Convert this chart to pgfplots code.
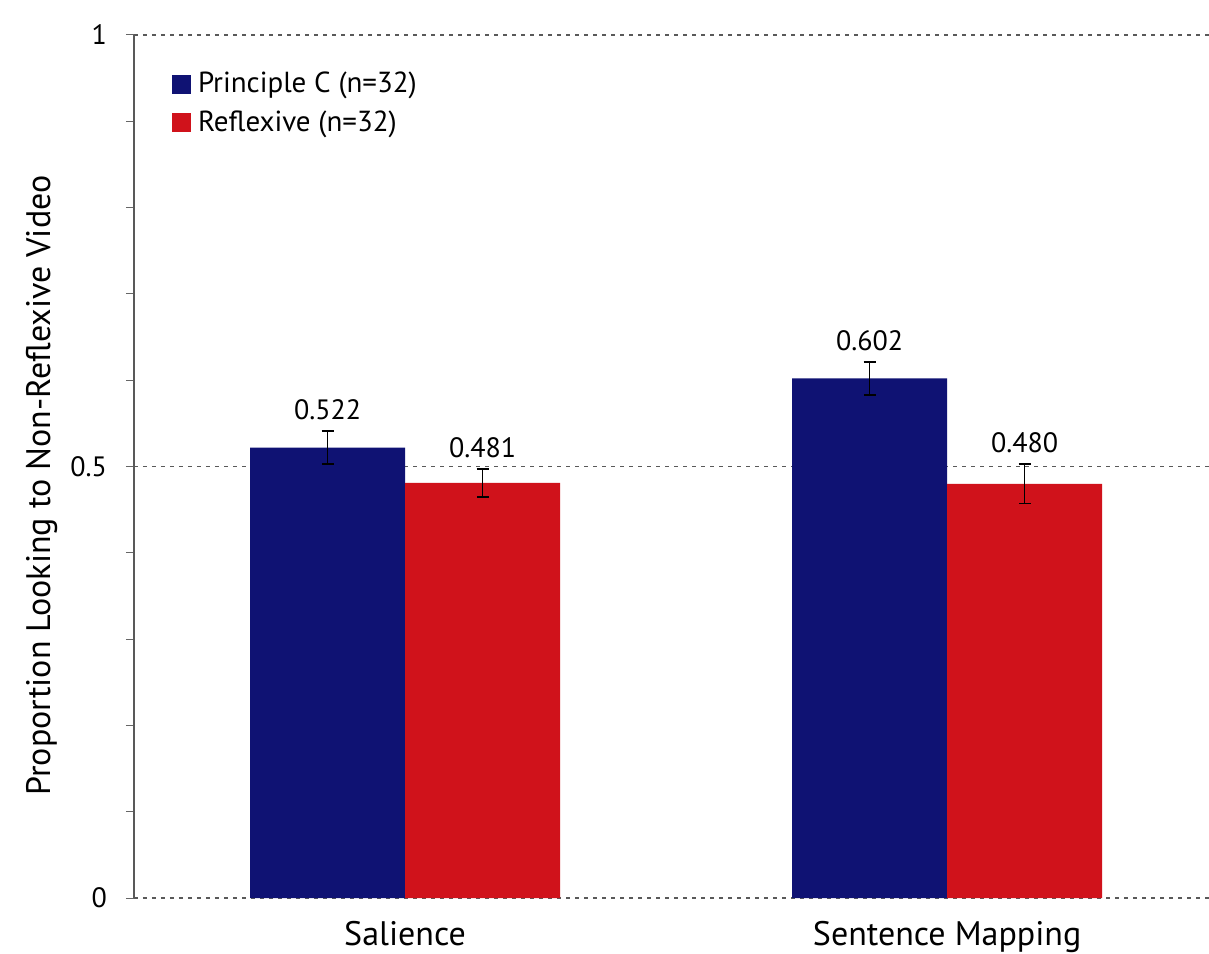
\documentclass[border=0pt]{standalone}
\usepackage{pgfplots}
\pgfplotsset{compat=1.18}
\usepackage{fontspec}
\setmainfont{PT Sans}
\definecolor{pcblue}{RGB}{15,18,115}
\definecolor{rfred}{RGB}{208,18,27}
\begin{document}
\begin{tikzpicture}
\begin{axis}[
  name=ax, at={(0,0)}, anchor=south west,
  scale only axis, width=537.5pt, height=431.5pt,
  xmin=-0.5, xmax=1.483, ymin=0, ymax=1,
  axis y line*=left, axis x line*=bottom,
  x axis line style={draw=none},
  y axis line style={draw=black!65, line width=0.75pt},
  xtick={0,1}, xticklabels={Salience, Sentence Mapping},
  xtick style={draw=none},
  xticklabel style={font=\fontsize{17}{19}\selectfont, yshift=-4pt},
  ytick={0,0.5,1}, yticklabels={0,0.5,1},
  minor ytick={0.1,0.2,0.3,0.4,0.6,0.7,0.8,0.9},
  tick align=outside, major tick length=4pt, minor tick length=4pt,
  ytick style={draw=black!60, line width=0.5pt},
  yticklabel style={font=\fontsize{14}{16}\selectfont, xshift=-6pt},
  /pgf/number format/assume math mode=true,
  ymajorgrids, grid style={draw=black!65, line width=0.8pt, dash pattern=on 2.2pt off 2.3pt},
  ylabel={Proportion Looking to Non-Reflexive Video},
  every axis y label/.style={at={(axis description cs:-0.0856,0.478)}, rotate=90, anchor=center, font=\fontsize{17}{19}\selectfont},
  legend style={at={(axis description cs:0.035,0.962)}, anchor=north west, draw=none, fill=none,
    font=\fontsize{14.5}{16}\selectfont, row sep=3.5pt, inner sep=0pt, nodes={inner xsep=3.5pt}},
  legend cell align=left,
  legend image code/.code={\fill[#1] (0pt,-4.75pt) rectangle (9.5pt,4.75pt);},
  clip=false,
]
\addplot[ybar, bar width=0.286, bar shift=0pt, fill=pcblue, draw=none,
  error bars/.cd, y dir=both, y explicit,
  error bar style={black, line width=0.8pt},
  error mark options={rotate=90, black, mark size=3pt, line width=0.8pt}]
  coordinates {(-0.143,0.522) +- (0,0.019) (0.857,0.602) +- (0,0.019)};
\addlegendentry{Principle C (n=32)}
\addplot[ybar, bar width=0.286, bar shift=0pt, fill=rfred, draw=none,
  error bars/.cd, y dir=both, y explicit,
  error bar style={black, line width=0.8pt},
  error mark options={rotate=90, black, mark size=3pt, line width=0.8pt}]
  coordinates {(0.143,0.481) +- (0,0.016) (1.143,0.480) +- (0,0.023)};
\addlegendentry{Reflexive (n=32)}
\addplot[forget plot, draw=none, mark=none, nodes near coords, point meta=explicit symbolic,
  nodes near coords style={anchor=south, inner sep=0pt, yshift=5.5pt, font=\fontsize{14}{16}\selectfont, text=black}]
  coordinates {(-0.143,0.541)[0.522] (0.143,0.497)[0.481] (0.857,0.621)[0.602] (1.143,0.503)[0.480]};
\end{axis}
\pgfresetboundingbox
\path[use as bounding box] (-67pt,-27.5pt) rectangle (537.5pt,449pt);
\end{tikzpicture}
\end{document}
